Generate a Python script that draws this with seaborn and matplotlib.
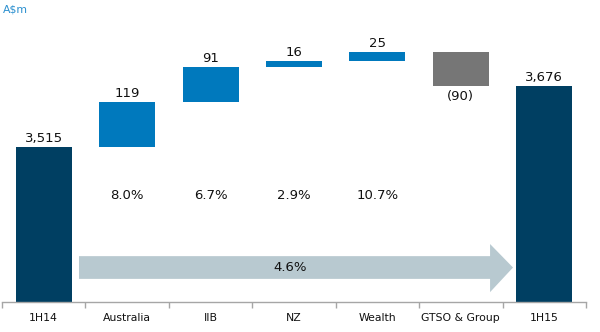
import matplotlib
matplotlib.use("Agg")
import matplotlib.pyplot as plt
from matplotlib.patches import Polygon
import numpy as np
import pandas as pd
import seaborn as sns

# Cash earnings bridge, A$m
categories = ["1H14", "Australia", "IIB", "NZ", "Wealth", "GTSO & Group", "1H15"]
changes = [3515, 119, 91, 16, 25, -90, 3676]
kinds = ["total", "step", "step", "step", "step", "step", "total"]
growth_labels = ["", "8.0%", "6.7%", "2.9%", "10.7%", "", ""]
overall_growth = "4.6%"
value_labels = ["3,515", "119", "91", "16", "25", "(90)", "3,676"]

# Floating bar geometry derived from the running total
bottoms, heights = [], []
running = 0
for ch, kind in zip(changes, kinds):
    if kind == "total":
        bottoms.append(0)
        heights.append(ch)
        running = ch
    else:
        bottoms.append(running)
        heights.append(ch)
        running += ch
df = pd.DataFrame({"category": categories, "height": heights, "bottom": bottoms})

NAVY = "#003F62"
BLUE = "#0079BD"
GREY = "#767676"
ARROW = "#B8C9D0"
colors = [NAVY if k == "total" else (GREY if c < 0 else BLUE)
          for c, k in zip(changes, kinds)]

sns.set_theme(style="white")
plt.rcParams["font.family"] = ["DejaVu Sans"]

fig = plt.figure(figsize=(6.0, 3.32), dpi=100)
ax = fig.add_axes([0.0033, 0.0904, 0.9734, 0.849])

sns.barplot(data=df, x="category", y="height", bottom=df["bottom"].values,
            order=categories, width=0.67, color=BLUE, ax=ax, linewidth=0)
for patch, col in zip(ax.patches, colors):
    patch.set_facecolor(col)
    patch.set_edgecolor(col)

y0 = 3106
ax.set_ylim(y0, y0 + 282 / 0.379)
ax.set_xlim(-0.5, 6.5)

# Value labels
for i, (ch, lab) in enumerate(zip(changes, value_labels)):
    top = bottoms[i] + heights[i]
    if ch < 0:
        ax.annotate(lab, (i, top), xytext=(0, -3), textcoords="offset points",
                    ha="center", va="top", fontsize=9.5, color="#111111")
    else:
        ax.annotate(lab, (i, top), xytext=(0, 1.5), textcoords="offset points",
                    ha="center", va="bottom", fontsize=9.5, color="#111111")

# Segment growth rates
for i, g in enumerate(growth_labels):
    if g:
        ax.text(i, 3386, g, ha="center", va="center", fontsize=9.5, color="#111111")

# Overall growth arrow
x_tail, x_head, x_tip = 0.423, 5.35, 5.625
body_lo, body_hi = 3167, 3227
head_lo, head_hi = 3132, 3259
arrow = Polygon([(x_tail, body_lo), (x_head, body_lo), (x_head, head_lo),
                 (x_tip, (body_lo + body_hi) / 2), (x_head, head_hi),
                 (x_head, body_hi), (x_tail, body_hi)],
                closed=True, facecolor=ARROW, edgecolor="none", zorder=1)
ax.add_patch(arrow)
ax.text(2.95, (body_lo + body_hi) / 2, overall_growth, ha="center", va="center",
        fontsize=9.5, color="#111111", zorder=3)

# Axes styling
for side in ["left", "right", "top"]:
    ax.spines[side].set_visible(False)
ax.spines["bottom"].set_color("#A6A6A6")
ax.spines["bottom"].set_linewidth(1.0)
ax.set_yticks([])
ax.set_xlabel("")
ax.set_ylabel("")
ax.set_xticks(np.arange(-0.5, 7, 1.0), minor=True)
ax.tick_params(axis="x", which="minor", length=4, width=1, color="#A6A6A6",
               direction="out", bottom=True)
ax.tick_params(axis="x", which="major", length=0, pad=8, labelsize=7.8,
               labelcolor="#111111")

fig.text(0.005, 0.97, "A$m", ha="left", va="center", fontsize=7.8, color="#2A8FCF")

fig.savefig("out.png", dpi=100)
